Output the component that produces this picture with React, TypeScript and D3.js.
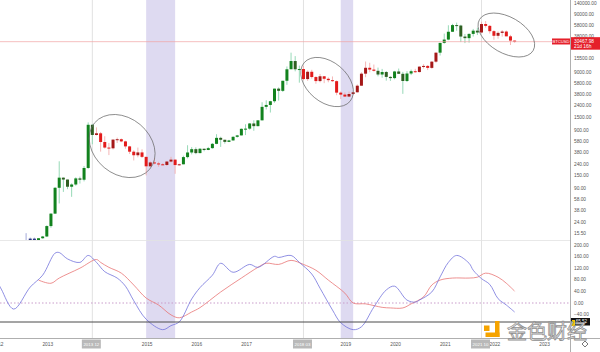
import React from "react";
import * as d3 from "d3";

// ---------- DATA ----------
const FIRST_MONTH = "2012-08"; // first monthly candle
const opens = [
  9.4, 10.2, 12.4, 11.2, 12.6,
  13.5, 20.4, 33.4, 93, 139, 129, 97, 106, 135, 128, 204, 1130,
  755, 806, 571, 458, 445, 628, 638, 585, 480, 389, 338, 378,
  317, 218, 254, 244, 236, 230, 263, 284, 229, 236, 314, 377,
  430, 368, 437, 416, 448, 531, 673, 624, 574, 608, 701, 742,
  963, 970, 1190, 1071, 1348, 2300, 2480, 2875, 4735, 4340, 6470, 10200,
  14150, 10200, 10300, 6920, 9240, 7500, 6390, 7730, 7000, 6630, 6370, 4040,
  3740, 3460, 3830, 4100, 5320, 8570, 10820, 10080, 9600, 8290, 9150, 7540,
  7190, 9350, 8520, 6410, 8630, 9450, 9140, 11330, 11650, 10780, 13800, 19700,
  28990, 33110, 45140, 58790, 57720, 37330, 35040, 41460, 47130, 43820, 61300, 57000,
  46210, 38480, 43190, 45510, 37640, 31800,
];
const highs = [
  15.4, 12.9, 12.9, 12.6, 13.8,
  21, 33.9, 96, 266, 140, 129, 111, 141, 145, 220, 1242, 1160,
  1020, 850, 718, 548, 630, 680, 657, 600, 490, 412, 458, 428,
  318, 265, 300, 261, 247, 268, 317, 285, 242, 332, 502, 466,
  462, 448, 439, 470, 549, 778, 704, 625, 623, 720, 757, 977,
  1153, 1211, 1350, 1350, 2763, 2980, 2916, 4736, 4975, 6470, 11400, 19700,
  17200, 11800, 11700, 9750, 9990, 7760, 8480, 7760, 7410, 7680, 6550, 4230,
  4070, 4210, 4100, 5600, 9070, 13880, 13200, 12320, 10900, 10350, 9520, 7750,
  9580, 10500, 9190, 9470, 10070, 10380, 11440, 12470, 12070, 14100, 19900, 29300,
  41950, 58350, 61800, 64850, 59500, 41330, 42300, 50500, 52900, 67000, 69000, 59050,
  47990, 45800, 48200, 47450, 39900, 31800,
];
const lows = [
  7.1, 9.9, 9.7, 10.0, 12.3,
  13.2, 19.1, 33, 50, 79, 88, 65, 101, 110, 120, 197, 522,
  740, 390, 440, 340, 425, 550, 567, 437, 355, 275, 311, 303,
  152, 212, 236, 214, 228, 220, 253, 162, 225, 236, 298, 350,
  352, 365, 395, 413, 437, 523, 470, 535, 569, 603, 678, 741,
  752, 929, 891, 1061, 1348, 2076, 1836, 2700, 2950, 4160, 5500, 10900,
  9400, 6000, 6600, 6450, 7040, 5750, 6070, 5880, 6100, 6200, 3650, 3130,
  3400, 3390, 3730, 4060, 5320, 7450, 9070, 9330, 7710, 7300, 6500, 6430,
  6850, 8450, 3850, 6150, 8100, 8900, 8990, 10530, 9880, 10380, 13200, 17600,
  28130, 32300, 45000, 47000, 30000, 28800, 29300, 37300, 39600, 43300, 53250, 42000,
  32900, 34300, 37150, 37700, 26700, 29200,
];
const closes = [
  10.2, 12.4, 11.2, 12.6, 13.5,
  20.4, 33.4, 93, 139, 129, 97, 106, 135, 128, 204, 1130, 755,
  806, 571, 458, 445, 628, 638, 585, 480, 389, 338, 378, 317,
  218, 254, 244, 236, 230, 263, 284, 229, 236, 314, 377, 430,
  368, 437, 416, 448, 531, 673, 624, 574, 608, 701, 742, 963,
  970, 1190, 1071, 1348, 2300, 2480, 2875, 4735, 4340, 6470, 10200, 14150,
  10200, 10300, 6920, 9240, 7500, 6390, 7730, 7000, 6630, 6370, 4040, 3740,
  3460, 3830, 4100, 5320, 8570, 10820, 10080, 9600, 8290, 9150, 7540, 7190,
  9350, 8520, 6410, 8630, 9450, 9140, 11330, 11650, 10780, 13800, 19700, 28990,
  33110, 45140, 58790, 57720, 37330, 35040, 41460, 47130, 43820, 61300, 57000, 46210,
  38480, 43190, 45510, 37640, 31800, 30467.98,
];

// oscillator (month index from Jan 2013 = 0)
const blueIdx = [-12, -11, -8, -4, -1, 2, 3, 5, 8, 10, 12, 14, 17, 19, 21, 24, 28, 30, 32, 35, 37, 40, 42, 45, 49, 51, 55, 56, 59, 61, 64, 66, 69, 71, 74, 76, 79, 82, 84, 87, 89, 90, 93, 95, 97, 99, 102, 103, 105, 107, 109, 111, 113];
const blueVal = [75, 48, -21, 55, 96, 172, 174, 152, 140, 164, 140, 108, 86, 58, 8, -56, -92, -78, -65, 14, 53, 96, 137, 106, 133, 123, 161, 157, 164, 140, 100, 51, -24, -68, -92, -82, -14, 45, 58, 10, 3, 10, 38, 90, 140, 164, 137, 113, 84, 64, 15, -7, -31];
const redIdx = [-2, 1, 3, 8, 12, 13, 15, 18, 21, 24, 27, 30, 32, 35, 37, 42, 47, 51, 53, 56, 59, 62, 65, 68, 72, 74, 77, 81, 83, 86, 88, 91, 93, 95, 98, 102, 104, 106, 109, 111, 113];
const redVal = [79, 68, 86, 120, 150, 140, 123, 103, 62, 17, -7, -41, -51, -31, -16, 38, 86, 123, 137, 133, 147, 133, 113, 79, 34, 0, -3, -15, -17, -17, -3, 21, 62, 79, 86, 86, 89, 103, 89, 68, 41];

const priceTicks = [140000, 90000, 58000, 38000, 15500, 9000, 5800, 3800, 2400, 1500, 900, 580, 380, 240, 150, 90, 58, 38, 24, 15.5];
const oscTicks = [200, 160, 120, 80, 40, 0, -40];
const yearLabels = [2012, 2013, 2014, 2015, 2016, 2017, 2018, 2019, 2020, 2021, 2022, 2023];
const markerMonths = ["2013-12", "2018-03", "2021-10"];
const markerLabels = ["2013 12", "2018 03", "2021 10"];
const bandStarts = ["2015-01", "2018-12"];
const bandEnds = ["2015-08", "2019-03"];
const ellipseMonths = [18.2, 67.7, 111.0];
const ellipsePrices = [487, 6155, 39660];
const lastPrice = 30467.98;
const countdown = "21d 16h";
const symbol = "BTCUSD";
const guideLevel = -65.52;
const watermark = "金色财经";

// ---------- HELPERS ----------
const mIdx = (s: string) => {
  const [yy, mm] = s.split("-").map(Number);
  return (yy - 2013) * 12 + (mm - 1);
};
const interp = (xs: number[], vs: number[], t: number): number | null => {
  if (t < xs[0] || t > xs[xs.length - 1]) return null;
  for (let i = 0; i < xs.length - 1; i++) {
    if (t >= xs[i] && t <= xs[i + 1]) {
      const f = (t - xs[i]) / (xs[i + 1] - xs[i]);
      return vs[i] + f * (vs[i + 1] - vs[i]);
    }
  }
  return vs[vs.length - 1];
};

const FONT = "'Liberation Sans', Arial, sans-serif";

export default function App() {
  const W = 600, H = 352;
  const axisX = 570.5;
  const x = d3.scaleLinear().domain([0, 120]).range([46.8, 543.6]);
  const y = d3.scaleLog().domain([15.5, 140000]).range([233, 3.2]);
  const yo = d3.scaleLinear().domain([-40, 200]).range([314.6, 245]);
  const first = mIdx(FIRST_MONTH);
  const fmt = d3.format(".2f");

  const line = d3
    .line<[number, number]>()
    .x((d) => x(d[0]))
    .y((d) => yo(d[1]))
    .curve(d3.curveCatmullRom.alpha(0.5));
  const blueD = line(blueIdx.map((t, i) => [t, blueVal[i]] as [number, number])) || "";
  const redD = line(redIdx.map((t, i) => [t, redVal[i]] as [number, number])) || "";

  const candles = opens.map((o, i) => {
    const t = first + i;
    const c = closes[i];
    const b = interp(blueIdx, blueVal, t);
    const r = interp(redIdx, redVal, t);
    let body: string, wick: string;
    if (b === null || r === null) {
      body = "#2a3580";
      wick = "#8c94d0";
    } else if (b >= r) {
      body = c >= o ? "#12821e" : "#2f5f22";
      wick = "#7ccfa5";
    } else {
      body = c >= o ? "#a51818" : "#e31b1b";
      wick = "#f3a5a5";
    }
    const cx = x(t);
    const top = Math.min(y(o), y(c));
    const bot = Math.max(y(o), y(c));
    return (
      <g key={i}>
        <line x1={cx} x2={cx} y1={y(highs[i])} y2={y(lows[i])} stroke={wick} strokeWidth={0.8} />
        <rect x={cx - 1.5} y={top} width={3} height={Math.max(1, bot - top)} fill={body} />
      </g>
    );
  });

  const priceY = y(lastPrice);
  const markerCenters = markerMonths.map((m) => x(mIdx(m)) - 1);
  const markerW = 19;
  const yearX = (yr: number) => x((yr - 2013) * 12) + 1;
  const visibleYears = yearLabels.filter(
    (yr) => !markerCenters.some((c) => Math.abs(c - yearX(yr)) < markerW / 2 - 2)
  );

  return (
    <svg width={W} height={H} style={{ position: "absolute", left: 0, top: 0, background: "#fff" }}>
      <defs>
        <clipPath id="pclip">
          <rect x={0} y={0} width={570} height={240} />
        </clipPath>
        <clipPath id="oclip">
          <rect x={0} y={241} width={570} height={97} />
        </clipPath>
        <clipPath id="aclip">
          <rect x={0} y={338} width={570} height={14} />
        </clipPath>
      </defs>
      <rect x={0} y={0} width={W} height={H} fill="#fff" />

      {/* shaded bands */}
      {bandStarts.map((s, i) => (
        <rect key={i} x={x(mIdx(s))} y={0} width={x(mIdx(bandEnds[i])) - x(mIdx(s))} height={338} fill="#dedaf1" />
      ))}

      {/* marker verticals */}
      {markerMonths.map((m, i) => (
        <line key={i} x1={x(mIdx(m))} x2={x(mIdx(m))} y1={0} y2={338} stroke="#d6d6d6" strokeWidth={0.7} />
      ))}

      {/* panel separator */}
      <line x1={0} x2={axisX} y1={240.5} y2={240.5} stroke="#e2e2e2" strokeWidth={0.8} />

      {/* price panel */}
      <g clipPath="url(#pclip)">
        {candles}
        <line x1={0} x2={552} y1={priceY} y2={priceY} stroke="#f2a3a3" strokeWidth={0.7} />
        {ellipseMonths.map((m, i) => {
          const specs = [
            { rx: 36, ry: 28, a: 40 },
            { rx: 30, ry: 20, a: 40 },
            { rx: 31, ry: 18, a: 30 },
          ][i];
          return (
            <ellipse
              key={i}
              transform={`translate(${x(m)},${y(ellipsePrices[i])}) rotate(${specs.a})`}
              rx={specs.rx}
              ry={specs.ry}
              fill="none"
              stroke="#6a6a6a"
              strokeWidth={0.7}
            />
          );
        })}
      </g>

      {/* oscillator panel */}
      <g clipPath="url(#oclip)">
        <line x1={0} x2={axisX} y1={yo(0)} y2={yo(0)} stroke="#c99ccb" strokeWidth={1} strokeDasharray="1.5,2" />
        <path d={redD} fill="none" stroke="#e87575" strokeWidth={0.8} />
        <path d={blueD} fill="none" stroke="#7373dc" strokeWidth={0.8} />
        <line x1={0} x2={axisX} y1={yo(guideLevel)} y2={yo(guideLevel)} stroke="#4a4a4a" strokeWidth={1} />
      </g>

      {/* axes frame */}
      <line x1={0} x2={W} y1={338.5} y2={338.5} stroke="#9a9a9a" strokeWidth={0.8} />
      <line x1={axisX} x2={axisX} y1={0} y2={H} stroke="#9a9a9a" strokeWidth={0.8} />

      {/* price axis labels */}
      {priceTicks.map((v) => (
        <text key={v} x={574} y={y(v)} dy="0.35em" fontSize={4.8} fill="#555" fontFamily={FONT}>
          {fmt(v)}
        </text>
      ))}
      {oscTicks.map((v) => (
        <text key={v} x={574} y={yo(v)} dy="0.35em" fontSize={4.8} fill="#555" fontFamily={FONT}>
          {fmt(v)}
        </text>
      ))}

      {/* last price labels */}
      <rect x={552} y={priceY - 3.2} width={18} height={6} fill="#e5202a" />
      <text x={561} y={priceY} dy="0.35em" textAnchor="middle" fontSize={4.2} fill="#fff" fontFamily={FONT}>
        {symbol}
      </text>
      <rect x={571} y={priceY - 4.5} width={29} height={12.5} fill="#e5202a" />
      <text x={574} y={priceY - 0.5} dy="0.35em" fontSize={4.8} fill="#fff" fontFamily={FONT}>
        {fmt(lastPrice)}
      </text>
      <text x={574} y={priceY + 4.8} dy="0.35em" fontSize={4.8} fill="#fff" fontFamily={FONT}>
        {countdown}
      </text>

      {/* guide level label */}
      <rect x={571} y={yo(guideLevel) - 4} width={19} height={7.5} fill="#111" />
      <text x={573} y={yo(guideLevel) - 0.5} dy="0.35em" fontSize={4.5} fill="#fff" fontFamily={FONT}>
        {fmt(guideLevel)}
      </text>

      {/* x axis labels */}
      <g clipPath="url(#aclip)">
        {visibleYears.map((yr) => (
          <text key={yr} x={yearX(yr)} y={344.5} dy="0.35em" textAnchor="middle" fontSize={4.8} fill="#555" fontFamily={FONT}>
            {yr}
          </text>
        ))}
        {markerCenters.map((c, i) => (
          <g key={i}>
            <rect x={c - markerW / 2} y={339.5} width={markerW} height={9} fill="#b9b9b9" />
            <text x={c} y={344} dy="0.35em" textAnchor="middle" fontSize={4.4} fill="#fff" fontFamily={FONT}>
              {markerLabels[i]}
            </text>
          </g>
        ))}
      </g>

      {/* settings icon */}
      <path d="M585,341 L588,344 L585,347 L582,344 Z" fill="none" stroke="#555" strokeWidth={0.8} />

      {/* watermark */}
      <g>
        <rect x={495} y={321} width={4.5} height={16} fill="#f5a300" />
        <rect x={485.5} y={332.5} width={14} height={4.5} fill="#f5a300" />
        <rect x={484} y={325.5} width={5.5} height={5.5} fill="#f5a300" />
        <rect x={572} y={320} width={3} height={6} fill="#f5c400" />
        <text
          x={507}
          y={338.5}
          fontSize={20}
          fontFamily="'Noto Sans CJK SC', sans-serif"
          fill="#f7f7f7"
          fillOpacity={0.92}
          stroke="#8f8f8f"
          strokeWidth={0.8}
        >
          {watermark}
        </text>
      </g>
    </svg>
  );
}
